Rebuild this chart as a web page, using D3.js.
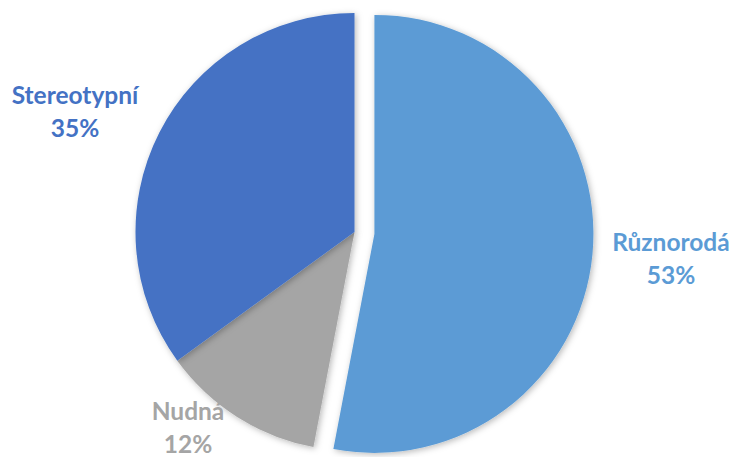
<!DOCTYPE html>
<html>
<head>
<meta charset="utf-8">
<script src="https://cdn.jsdelivr.net/npm/d3@7"></script>
<style>
  html, body { margin: 0; padding: 0; background: #fff; }
  svg { display: block; }
  .lbl { font-family: Lato, "Open Sans", sans-serif; font-weight: 700; }
</style>
</head>
<body>
<svg id="chart" width="732" height="457"></svg>
<script>
// Share of answers, clockwise from 12 o'clock
const categories = ["Různorodá", "Nudná", "Stereotypní"];
const values = [53, 12, 35];
const colors = ["#5B9BD5", "#A5A5A5", "#4472C4"];
const exploded = [true, false, false];
// label anchor: centre x and baseline of the first line
const labelPos = [[671, 251], [188, 420], [75, 104]];

const W = 732, H = 457;
const cx = 354.5, cy = 232, R = 219, explode = 20, lineGap = 32.5;

const svg = d3.select("#chart");

const defs = svg.append("defs");
const f = defs.append("filter").attr("id", "shadow")
  .attr("x", "-20%").attr("y", "-20%").attr("width", "140%").attr("height", "140%");
f.append("feDropShadow").attr("dx", 1.5).attr("dy", 1.5).attr("stdDeviation", 3)
  .attr("flood-color", "#000").attr("flood-opacity", 0.28);

const pie = d3.pie().sort(null).value(d => d)(values);
const arc = d3.arc().innerRadius(0).outerRadius(R);

const g = svg.append("g").attr("transform", `translate(${cx},${cy})`);

g.selectAll("path.slice")
  .data(pie)
  .join("path")
  .attr("class", "slice")
  .attr("fill", (d, i) => colors[i])
  .attr("filter", "url(#shadow)")
  .attr("transform", (d, i) => {
    if (!exploded[i]) return null;
    const a = (d.startAngle + d.endAngle) / 2;
    return `translate(${explode * Math.sin(a)},${-explode * Math.cos(a)})`;
  })
  .attr("d", arc);

const total = d3.sum(values);
const fmt = v => Math.round(v / total * 100) + "%";

const labels = svg.selectAll("text.lbl")
  .data(pie)
  .join("text")
  .attr("class", "lbl")
  .attr("text-anchor", "middle")
  .attr("fill", (d, i) => colors[i])
  .attr("font-size", 24.5)
  .attr("x", (d, i) => labelPos[i][0])
  .attr("y", (d, i) => labelPos[i][1]);

labels.append("tspan")
  .attr("x", (d, i) => labelPos[i][0])
  .text((d, i) => categories[i]);
labels.append("tspan")
  .attr("x", (d, i) => labelPos[i][0])
  .attr("dy", lineGap)
  .text(d => fmt(d.value));
</script>
</body>
</html>
